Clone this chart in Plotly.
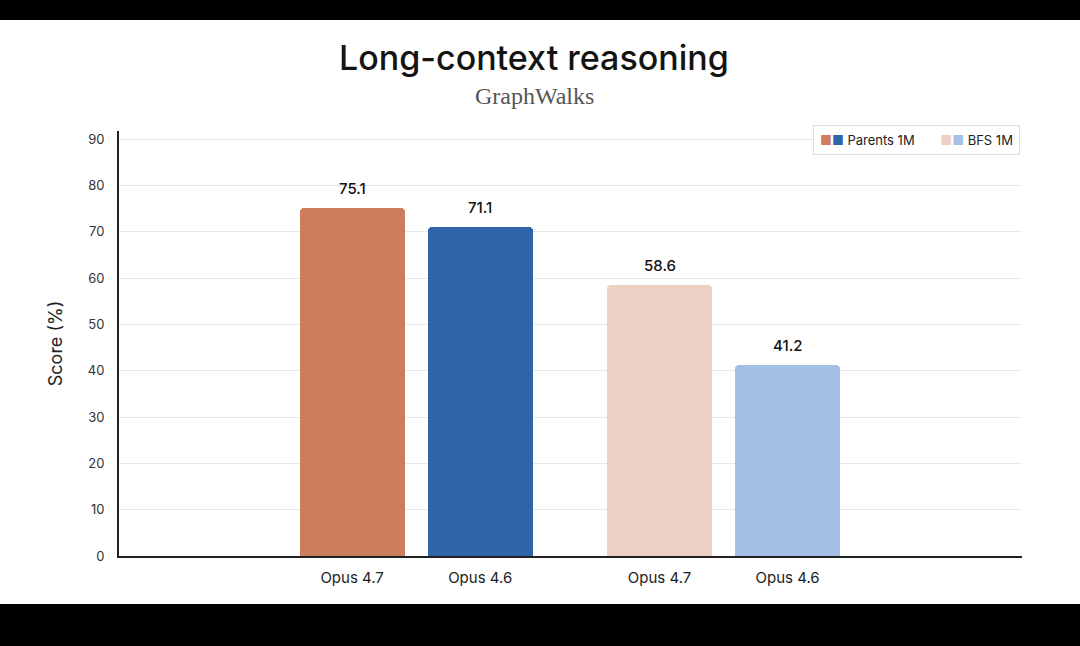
import plotly.graph_objects as go

# ---- data ----
benchmarks = ["Parents 1M", "BFS 1M"]
models = ["Opus 4.7", "Opus 4.6"]
parents_scores = [75.1, 71.1]
bfs_scores = [58.6, 41.2]
series_values = [parents_scores, bfs_scores]
y_ticks = [0, 10, 20, 30, 40, 50, 60, 70, 80, 90]

# ---- styling ----
colors = [["#CC7D5E", "#2F64A8"], ["#EECFC3", "#A4C0E4"]]
GROUP_GAP = 2.4
FONT = "Inter"

W, H = 1080, 646
L, R, T, B = 119, 58, 131, 90
plot_w = W - L - R
plot_h = H - T - B

def px_x(p):
    return (p - L) / plot_w

def px_y(p):
    return (H - B - p) / plot_h

fig = go.Figure()
tickvals, ticktext = [], []
for g, (bench, vals) in enumerate(zip(benchmarks, series_values)):
    xs = [g * GROUP_GAP + m for m in range(len(models))]
    tickvals += xs
    ticktext += models
    fig.add_trace(go.Bar(
        x=xs, y=vals, name=bench,
        marker=dict(color=colors[g], line=dict(width=0)),
        width=0.82,
        cliponaxis=False,
        showlegend=False,
    ))
    for x, v in zip(xs, vals):
        fig.add_annotation(x=x, y=v, text=f"{v:.1f}", showarrow=False,
                           xanchor="center", yanchor="bottom", yshift=8,
                           font=dict(family=FONT, size=15, color="#111111", weight=500))

# background: black bands top & bottom, white card
fig.add_shape(type="rect", xref="paper", yref="paper",
              x0=px_x(-20), x1=px_x(W + 20), y0=px_y(604), y1=px_y(20),
              fillcolor="white", line=dict(width=0), layer="below")

# legend as annotation
sq = lambda c: f'<span style="color:{c}">■</span>'
legend_text = (sq(colors[0][0]) + sq(colors[0][1]) + " " + benchmarks[0]
               + "       " + sq(colors[1][0]) + sq(colors[1][1]) + " " + benchmarks[1])
fig.add_annotation(xref="paper", yref="paper", x=px_x(1020), y=px_y(140),
                   xanchor="right", yanchor="middle", showarrow=False,
                   text=legend_text, font=dict(family=FONT, size=13, color="#222222"),
                   bgcolor="white", bordercolor="#DDDDDD", borderwidth=1, borderpad=6)

# title & subtitle
fig.add_annotation(xref="paper", yref="paper", x=px_x(534), y=px_y(57),
                   xanchor="center", yanchor="middle", showarrow=False,
                   text="Long-context reasoning",
                   font=dict(family=FONT, size=34, color="#141413", weight=500))
fig.add_annotation(xref="paper", yref="paper", x=px_x(534), y=px_y(96),
                   xanchor="center", yanchor="middle", showarrow=False,
                   text="GraphWalks",
                   font=dict(family="Liberation Serif", size=24, color="#555555"))

fig.update_layout(
    width=W, height=H, autosize=False,
    margin=dict(l=L, r=R, t=T, b=B),
    paper_bgcolor="black", plot_bgcolor="white",
    bargap=0,
    xaxis=dict(range=[-1.82, 5.23], tickvals=tickvals, ticktext=ticktext,
               showgrid=False, zeroline=False, showline=True,
               linecolor="#222222", linewidth=2, ticks="",
               ticklabelstandoff=7,
               tickfont=dict(family=FONT, size=15, color="#222222")),
    yaxis=dict(range=[0, 91.8], tickvals=y_ticks,
               showgrid=True, gridcolor="#E8E8E8", gridwidth=1,
               zeroline=False, showline=True, linecolor="#222222", linewidth=2,
               ticks="", ticklabelstandoff=10,
               tickfont=dict(family=FONT, size=13, color="#333333"),
               title=dict(text="Score (%)", standoff=20,
                          font=dict(family=FONT, size=18, color="#222222"))),
    barcornerradius=4,
)

fig.write_html("out.html", config={"displayModeBar": False},
               post_script="document.body.style.margin='0';")
